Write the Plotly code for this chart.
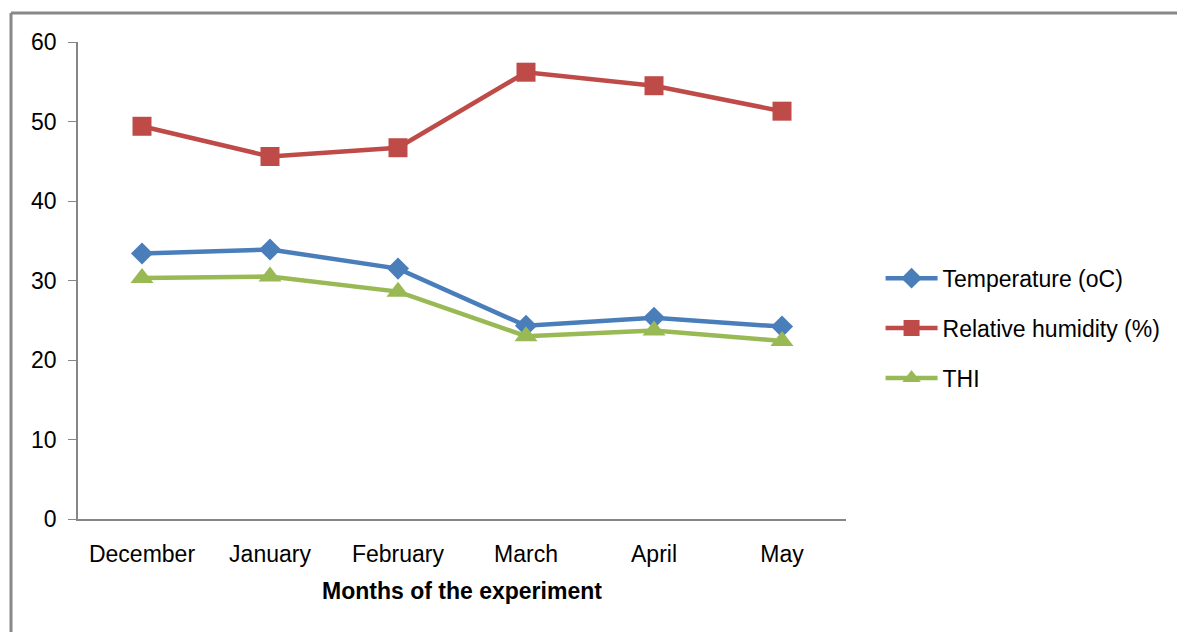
import plotly.graph_objects as go

months = ["December", "January", "February", "March", "April", "May"]
temperature = [33.4, 33.9, 31.5, 24.3, 25.3, 24.2]
humidity = [49.4, 45.6, 46.7, 56.2, 54.5, 51.3]
thi = [30.3, 30.5, 28.6, 23.0, 23.7, 22.4]

series = [
    ("Temperature (oC)", temperature, "#4A7EBB", "diamond", 17),
    ("Relative humidity (%)", humidity, "#BE4B48", "square", 19),
    ("THI", thi, "#98B954", "triangle-up", 20),
]

fig = go.Figure()
for i, (name, vals, color, sym, size) in enumerate(series):
    fig.add_trace(go.Scatter(
        x=months, y=vals, name=name, mode="lines+markers",
        line=dict(color=color, width=4.5),
        marker=dict(symbol=sym, size=size, color=color),
        legendgroup=str(i),
    ))

# page body has an 8px offset, so layout is shifted accordingly
L, T, PW, PH = 70, 34, 768, 477
font = "Liberation Sans, Arial, sans-serif"
fig.update_layout(
    width=1185, height=632,
    margin=dict(l=L, r=1185 - L - PW, t=T, b=632 - T - PH),
    paper_bgcolor="white", plot_bgcolor="white",
    font=dict(family=font, size=23, color="#000000"),
    showlegend=True,
    legend=dict(x=1.045, y=0.40, xanchor="left", yanchor="middle",
                traceorder="grouped", tracegroupgap=17,
                font=dict(size=23), itemwidth=52, bgcolor="rgba(0,0,0,0)"),
    xaxis=dict(
        type="category", range=[-0.5, 5.5],
        showline=True, linecolor="#868686", linewidth=1.5,
        showgrid=False, ticks="", ticklabelstandoff=14,
        tickfont=dict(size=23),
        title=dict(text="<b>Months of the experiment</b>", font=dict(size=23), standoff=17),
    ),
    yaxis=dict(
        range=[0, 60], dtick=10, tick0=0,
        showline=True, linecolor="#868686", linewidth=1.5,
        showgrid=False, ticks="outside", ticklen=8, tickcolor="#868686",
        ticklabelstandoff=7, tickfont=dict(size=23), zeroline=False,
    ),
    shapes=[
        dict(type="line", xref="paper", yref="paper",
             x0=(3 - L) / PW, x1=(3 - L) / PW, y0=(T + PH - 5) / PH, y1=(T + PH - 640) / PH,
             line=dict(color="#888888", width=3)),
        dict(type="line", xref="paper", yref="paper",
             x0=(3 - L) / PW, x1=(1190 - L) / PW, y0=(T + PH - 5) / PH, y1=(T + PH - 5) / PH,
             line=dict(color="#888888", width=3)),
    ],
)

fig.write_html("out.html")
